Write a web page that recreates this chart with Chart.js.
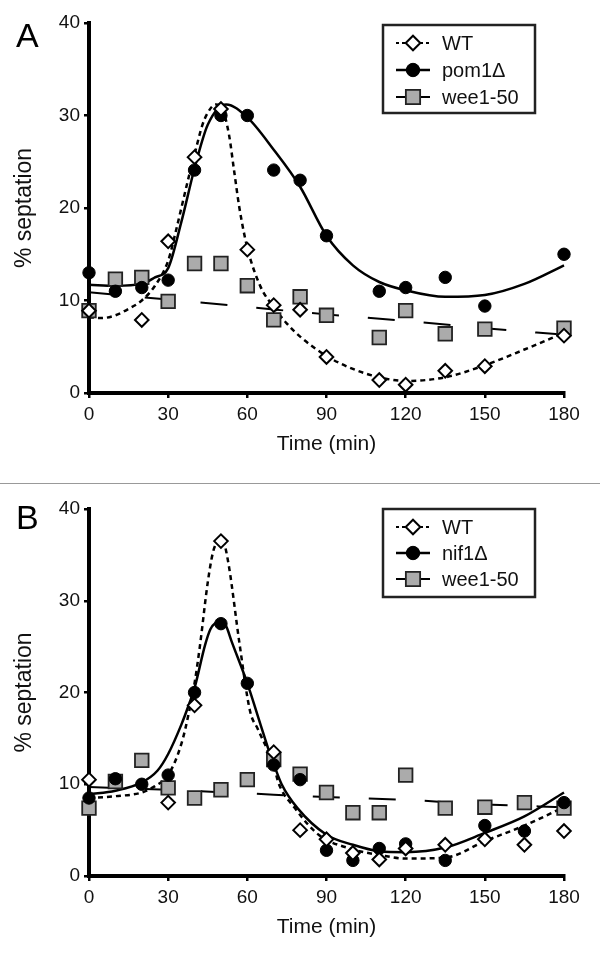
<!DOCTYPE html>
<html>
<head>
<meta charset="utf-8">
<script src="https://cdn.jsdelivr.net/npm/chart.js@4.4.0/dist/chart.umd.min.js"></script>
<style>
  body { margin: 0; background: #fff; }
  #page { position: relative; width: 600px; height: 967px; overflow: hidden; }
  canvas { position: absolute; left: 0; }
  .panel { position: absolute; font: 34px "Liberation Sans", Arial, sans-serif; color: #000; }
  #sep { position: absolute; left: 0; top: 483px; width: 600px; height: 1px; background: #999; }
</style>
</head>
<body>
<div id="page">
  <canvas id="chartA" width="600" height="480" style="top:0"></canvas>
  <div id="sep"></div>
  <canvas id="chartB" width="600" height="480" style="top:487px"></canvas>
  <div class="panel" style="left:16px; top:16px">A</div>
  <div class="panel" style="left:16px; top:498px">B</div>
</div>
<script>
// ---- data ----
const timeA = [0, 10, 20, 30, 40, 50, 60, 70, 80, 90, 110, 120, 135, 150, 180];
const wtA   = [8.9, null, 7.9, 16.4, 25.5, 30.7, 15.5, 9.5, 9.0, 3.9, 1.4, 0.9, 2.4, 2.9, 6.2];
const pom1A = [13, 11, 11.4, 12.2, 24.1, 30, 30, 24.1, 23, 17, 11, 11.4, 12.5, 9.4, 15];
const weeA  = [8.9, 12.3, 12.5, 9.9, 14, 14, 11.6, 7.9, 10.4, 8.4, 6.0, 8.9, 6.4, 6.9, 7.0];

// fitted curves
const wtFitTimeA = [0, 5, 10, 15, 20, 25, 30, 33, 35, 38, 40, 43, 45, 48, 50, 53, 55, 57, 60, 65, 70, 75, 80, 90, 100, 110, 120, 135, 150, 165, 180];
const wtFitA     = [8.2, 8.1, 8.4, 9.1, 10, 11.6, 14.3, 17.6, 20, 23.6, 25.8, 29, 30.3, 31.2, 31, 28, 24, 20, 15.7, 11.5, 9.3, 7.5, 6.1, 4.0, 2.6, 1.7, 1.3, 1.7, 3.0, 4.7, 6.5];
const pom1FitTimeA = [0, 10, 20, 25, 30, 35, 40, 45, 52, 60, 70, 80, 90, 100, 110, 120, 135, 150, 165, 180];
const pom1FitA     = [11.7, 11.6, 11.8, 12.5, 13.5, 18.5, 24.3, 29, 31.2, 29.8, 26.3, 22.3, 17, 13.8, 12, 11.1, 10.4, 10.6, 11.8, 13.8];
const weeFitTimeA = [0, 30, 60, 90, 120, 150, 180];
const weeFitA     = [10.9, 10.1, 9.3, 8.5, 7.8, 7.0, 6.3];

const timeB = [0, 10, 20, 30, 40, 50, 60, 70, 80, 90, 100, 110, 120, 135, 150, 165, 180];
const wtB   = [10.5, null, null, 8, 18.6, 36.5, null, 13.5, 5, 4, 2.5, 1.8, 3, 3.4, 4, 3.4, 4.9];
const nif1B = [8.5, 10.6, 10, 11, 20, 27.5, 21, 12.1, 10.5, 2.8, 1.7, 3.0, 3.5, 1.7, 5.5, 4.9, 8.0];
const weeB  = [7.4, 10.3, 12.6, 9.6, 8.5, 9.4, 10.5, 12.7, 11.1, 9.1, 6.9, 6.9, 11, 7.4, 7.5, 8.0, 7.4];

const wtFitTimeB = [0, 10, 20, 25, 30, 35, 38, 40, 42, 45, 47, 49, 50, 51, 53, 57, 61, 64, 68, 70, 72, 78, 87, 100, 110, 120, 135, 150, 165, 180];
const wtFitB     = [8.5, 8.7, 9.1, 9.8, 11, 14.4, 18, 21, 25, 32, 35.3, 36.6, 36.8, 36.5, 33.8, 25.4, 18, 16, 13.5, 12, 10, 7.4, 4.5, 2.9, 2.3, 1.9, 2.0, 3.8, 5.5, 7.5];
const nif1FitTimeB = [0, 10, 20, 26, 30, 35, 38, 40, 44, 46, 48, 50, 52, 54, 60, 65, 68, 70, 73, 79, 90, 100, 110, 120, 135, 150, 165, 180];
const nif1FitB     = [8.9, 9.3, 10.2, 11.5, 13.3, 16.5, 18.8, 20.5, 25.2, 26.9, 27.6, 27.8, 27.2, 25.6, 21, 16.5, 13.8, 12.2, 10, 7.4, 4.5, 3.4, 2.7, 2.6, 3.1, 4.7, 6.5, 9.1];
const weeFitTimeB = [0, 30, 60, 90, 120, 150, 180];
const weeFitB     = [9.7, 9.4, 9.0, 8.6, 8.3, 7.8, 7.5];

const xTicks = [0, 30, 60, 90, 120, 150, 180];
const yTicks = [0, 10, 20, 30, 40];

// ---- styles ----
const FONT = '"Liberation Sans", Arial, Helvetica, sans-serif';
const diamond = { pointStyle: 'rectRot', pointRadius: 6.8, pointBackgroundColor: '#fff', pointBorderColor: '#000', pointBorderWidth: 2 };
const circle  = { pointStyle: 'circle', pointRadius: 6.2, pointBackgroundColor: '#000', pointBorderColor: '#000', pointBorderWidth: 1 };
const square  = { pointStyle: 'rect', pointRadius: 9.6, pointBackgroundColor: '#ababab', pointBorderColor: '#222', pointBorderWidth: 1.8 };

const toXY = (xs, ys) => xs.map((x, i) => ({ x: x, y: ys[i] }));

function pointSet(label, xs, ys, style, order) {
  return Object.assign({ label: label, data: toXY(xs, ys), showLine: false, order: order, clip: false }, style);
}
function fitSet(xs, ys, dash, width) {
  return {
    label: '', data: toXY(xs, ys), showLine: true, pointRadius: 0, borderColor: '#000',
    borderWidth: width, borderDash: dash, cubicInterpolationMode: 'monotone', order: 5, clip: false
  };
}

// framed legend with line + marker symbols
const framedLegend = {
  id: 'framedLegend',
  afterDatasetsDraw(chart, args, o) {
    const ctx = chart.ctx;
    ctx.save();
    ctx.fillStyle = '#fff';
    ctx.fillRect(o.x, o.y, o.w, o.h);
    ctx.lineWidth = 2.5;
    ctx.strokeStyle = '#222';
    ctx.strokeRect(o.x, o.y, o.w, o.h);
    o.items.forEach((it, i) => {
      const ds = chart.data.datasets[it.ds];
      const cy = o.y + o.rowTop + i * o.rowGap;
      const cx = o.x + 30;
      ctx.beginPath();
      ctx.setLineDash(it.dash);
      ctx.lineWidth = it.lw;
      ctx.strokeStyle = '#000';
      ctx.moveTo(cx - 17, cy);
      ctx.lineTo(cx + 17, cy);
      ctx.stroke();
      ctx.setLineDash([]);
      ctx.fillStyle = ds.pointBackgroundColor;
      ctx.strokeStyle = ds.pointBorderColor;
      ctx.lineWidth = ds.pointBorderWidth;
      Chart.helpers.drawPoint(ctx, { pointStyle: ds.pointStyle, radius: ds.pointRadius + 0.5, borderWidth: ds.pointBorderWidth, rotation: 0 }, cx, cy);
      ctx.fillStyle = '#111';
      ctx.font = '20px ' + FONT;
      ctx.textBaseline = 'middle';
      ctx.textAlign = 'left';
      ctx.fillText(ds.label, o.x + 59, cy + 1);
    });
    ctx.restore();
  }
};

function makeChart(id, sets, geo, legend) {
  new Chart(document.getElementById(id), {
    type: 'scatter',
    data: { datasets: sets },
    plugins: [framedLegend],
    options: {
      responsive: false,
      animation: false,
      events: [],
      layout: { padding: { left: 0, right: 36, top: geo.top, bottom: 0 } },
      plugins: { legend: { display: false }, tooltip: { enabled: false }, framedLegend: legend },
      scales: {
        x: {
          type: 'linear', min: 0, max: 180,
          afterBuildTicks: s => { s.ticks = xTicks.map(v => ({ value: v })); },
          afterFit: s => { s.height = geo.xh; },
          border: { display: true, width: 4, color: '#000' },
          grid: { drawOnChartArea: false, drawTicks: true, tickLength: 5, color: '#000', lineWidth: 2.5 },
          ticks: { color: '#111', padding: 5, font: { size: 19, family: FONT } },
          title: { display: true, text: 'Time (min)', color: '#111', font: { size: 21, family: FONT }, padding: { top: 0, bottom: geo.titlePad } }
        },
        y: {
          type: 'linear', min: 0, max: 40,
          afterBuildTicks: s => { s.ticks = yTicks.map(v => ({ value: v })); },
          afterFit: s => { s.width = 89; },
          border: { display: true, width: 4, color: '#000' },
          grid: { drawOnChartArea: false, drawTicks: true, tickLength: 5, color: '#000', lineWidth: 2.5 },
          ticks: { color: '#111', padding: 4, font: { size: 19, family: FONT } },
          title: { display: true, text: '% septation', color: '#111', font: { size: 23, family: FONT }, padding: { top: 11, bottom: 0 } }
        }
      }
    }
  });
}

makeChart('chartA', [
  pointSet('WT', timeA, wtA, diamond, 0),
  pointSet('pom1Δ', timeA, pom1A, circle, 1),
  pointSet('wee1-50', timeA, weeA, square, 2),
  fitSet(wtFitTimeA, wtFitA, [5, 4], 2.5),
  fitSet(pom1FitTimeA, pom1FitA, [], 2.5),
  fitSet(weeFitTimeA, weeFitA, [27, 29], 2)
], { top: 23, xh: 87, titlePad: 23 }, {
  x: 383, y: 25, w: 152, h: 88, rowTop: 18, rowGap: 27,
  items: [{ ds: 0, dash: [3, 3], lw: 2 }, { ds: 1, dash: [], lw: 2.5 }, { ds: 2, dash: [], lw: 2 }]
});

makeChart('chartB', [
  pointSet('WT', timeB, wtB, diamond, 0),
  pointSet('nif1Δ', timeB, nif1B, circle, 1),
  pointSet('wee1-50', timeB, weeB, square, 2),
  fitSet(wtFitTimeB, wtFitB, [5, 4], 2.5),
  fitSet(nif1FitTimeB, nif1FitB, [], 2.5),
  fitSet(weeFitTimeB, weeFitB, [27, 29], 2)
], { top: 22, xh: 91, titlePad: 27 }, {
  x: 383, y: 22, w: 152, h: 88, rowTop: 18, rowGap: 26,
  items: [{ ds: 0, dash: [3, 3], lw: 2 }, { ds: 1, dash: [], lw: 2.5 }, { ds: 2, dash: [], lw: 2 }]
});
</script>
</body>
</html>
